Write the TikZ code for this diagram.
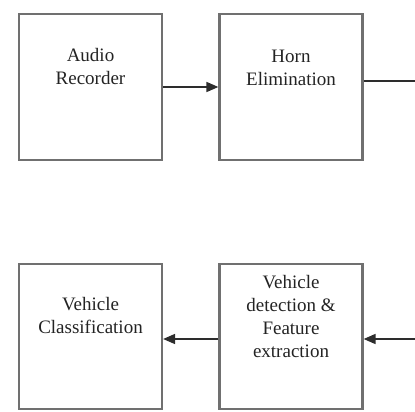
\documentclass[tikz,border=0pt]{standalone}
\usepackage{fontspec}
\setmainfont{Liberation Serif}
\usetikzlibrary{arrows.meta}
\definecolor{boxgray}{RGB}{112,112,112}
\definecolor{linegray}{RGB}{45,45,45}
\definecolor{textgray}{RGB}{35,35,35}
\begin{document}
\begin{tikzpicture}[x=1pt,y=-1pt,
  stage/.style={draw=boxgray, line width=2.2pt, rectangle, inner sep=0pt,
    minimum width=143pt, minimum height=146pt},
  caption/.style={align=center, text=textgray, inner sep=0pt,
    font=\fontsize{19}{23}\selectfont},
  flow/.style={draw=linegray, line width=1.6pt,
    -{Triangle[length=12pt,width=10pt]}},
  link/.style={draw=linegray, line width=1.6pt}]
\useasboundingbox (0,0) rectangle (415,412);

% processing stages
\node[stage] (rec) at (90.5,87) {};
\node[stage] (horn) at (291,87) {};
\node[stage, minimum height=145pt] (cls) at (90.5,336.5) {};
\node[stage, minimum height=145pt] (det) at (291,336.5) {};

% stage captions
\node[caption] (recT) at (90.5,67) {Audio\\Recorder};
\node[caption] (hornT) at (291,67.5) {Horn\\Elimination};
\node[caption] (clsT) at (90.5,315.5) {Vehicle\\Classification};
\node[caption] (detT) at (291,316) {Vehicle\\detection \&\\Feature\\extraction};

% connectors
\coordinate (outTop) at (415,81);
\coordinate (inBot) at (415,339);
\draw[flow] (rec.east) -- (horn.west);
\draw[link] (outTop -| horn.east) -- (outTop);
\draw[flow] (inBot) -- (inBot -| det.east);
\draw[flow] (inBot -| det.west) -- (inBot -| cls.east);
\end{tikzpicture}
\end{document}
